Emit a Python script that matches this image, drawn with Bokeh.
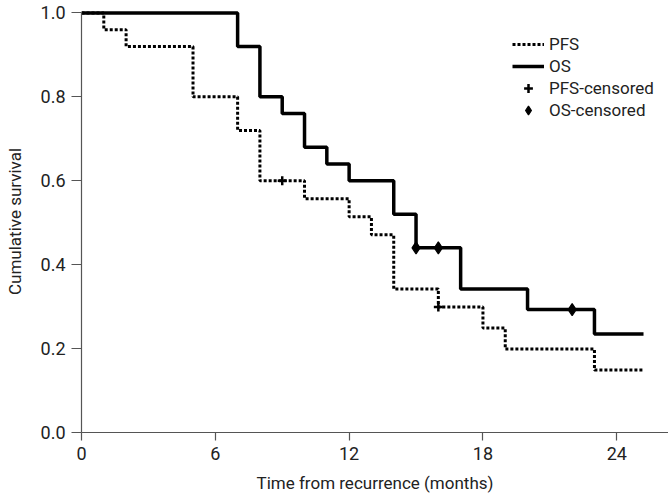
from bokeh.plotting import figure
from bokeh.models import Range1d, Legend, LegendItem, FixedTicker, CustomJSTickFormatter
from bokeh.embed import file_html
from bokeh.resources import INLINE

# Data
os_time = [0, 7, 8, 9, 10, 11, 12, 14, 15, 17, 20, 23, 25.2]
os_surv = [1.0, 0.92, 0.80, 0.76, 0.68, 0.64, 0.60, 0.52, 0.44, 0.342, 0.293, 0.235, 0.235]

pfs_time = [0, 1, 2, 5, 7, 8, 10, 12, 13, 14, 16, 18, 19, 23, 25.2]
pfs_surv = [1.0, 0.96, 0.92, 0.80, 0.72, 0.60, 0.557, 0.514, 0.471, 0.342, 0.299, 0.249, 0.199, 0.149, 0.149]

pfs_cens_time = [9, 16]
pfs_cens_surv = [0.60, 0.299]

os_cens_time = [15, 16, 22]
os_cens_surv = [0.44, 0.44, 0.293]

x_ticks = [0, 6, 12, 18, 24]
y_ticks = [0.0, 0.2, 0.4, 0.6, 0.8, 1.0]

FONT = "Roboto"

p = figure(width=668, height=500, output_backend="svg", toolbar_location=None,
           x_range=Range1d(0, 26.32), y_range=Range1d(0, 1.0057),
           min_border_left=81, min_border_right=0, min_border_top=10, min_border_bottom=68)
p.outline_line_color = None
p.xgrid.visible = False
p.ygrid.visible = False
p.background_fill_color = "white"
p.border_fill_color = "white"

pfs_r = p.step(x=pfs_time, y=pfs_surv, mode="after", line_color="black",
               line_width=3, line_dash="3 2")
os_r = p.step(x=os_time, y=os_surv, mode="after", line_color="black", line_width=3.5)

pfs_c = p.scatter(x=pfs_cens_time, y=pfs_cens_surv, marker="cross", size=9,
                  line_color="black", line_width=2.5)
os_c = p.scatter(x=os_cens_time, y=os_cens_surv, marker="diamond", size=12,
                 fill_color="black", line_color="black", line_width=1.2)

legend_line = p.line(x=[], y=[], line_color="black", line_width=2.5)

for ax in (p.xaxis[0], p.yaxis[0]):
    ax.axis_line_color = "#555555"
    ax.axis_line_width = 1.2
    ax.major_tick_line_color = "#555555"
    ax.major_tick_line_width = 1.2
    ax.minor_tick_line_color = None
    ax.major_tick_in = 0
    ax.major_label_text_font = FONT
    ax.major_label_text_font_size = "18px"
    ax.major_label_text_color = "#222222"
    ax.axis_label_text_font = FONT
    ax.axis_label_text_font_size = "17px"
    ax.axis_label_text_font_style = "normal"
    ax.axis_label_text_color = "#222222"

p.xaxis.ticker = FixedTicker(ticks=x_ticks)
p.yaxis.ticker = FixedTicker(ticks=y_ticks)
p.xaxis.major_tick_out = 8
p.yaxis.major_tick_out = 10
p.xaxis.major_label_standoff = 6
p.yaxis.major_label_standoff = 6
p.yaxis.bounds = (0, 1)
p.xaxis.axis_label = "Time from recurrence (months)"
p.yaxis.axis_label = "Cumulative survival"
p.xaxis.axis_label_standoff = 10
p.yaxis.axis_label_standoff = 13
p.yaxis.formatter = CustomJSTickFormatter(code="return tick.toFixed(1);")

legend = Legend(items=[
    LegendItem(label="PFS", renderers=[pfs_r]),
    LegendItem(label="OS", renderers=[os_r]),
    LegendItem(label="PFS-censored", renderers=[legend_line, pfs_c]),
    LegendItem(label="OS-censored", renderers=[os_c]),
], location=(431, 311))
legend.border_line_color = None
legend.background_fill_alpha = 0
legend.label_text_font = FONT
legend.label_text_font_size = "17px"
legend.label_text_color = "#222222"
legend.glyph_width = 32
legend.glyph_height = 22
legend.label_height = 22
legend.label_standoff = 5
legend.spacing = 0
legend.padding = 2
legend.margin = 0
p.add_layout(legend, "center")

open("out.html", "w").write(file_html(p, INLINE))
